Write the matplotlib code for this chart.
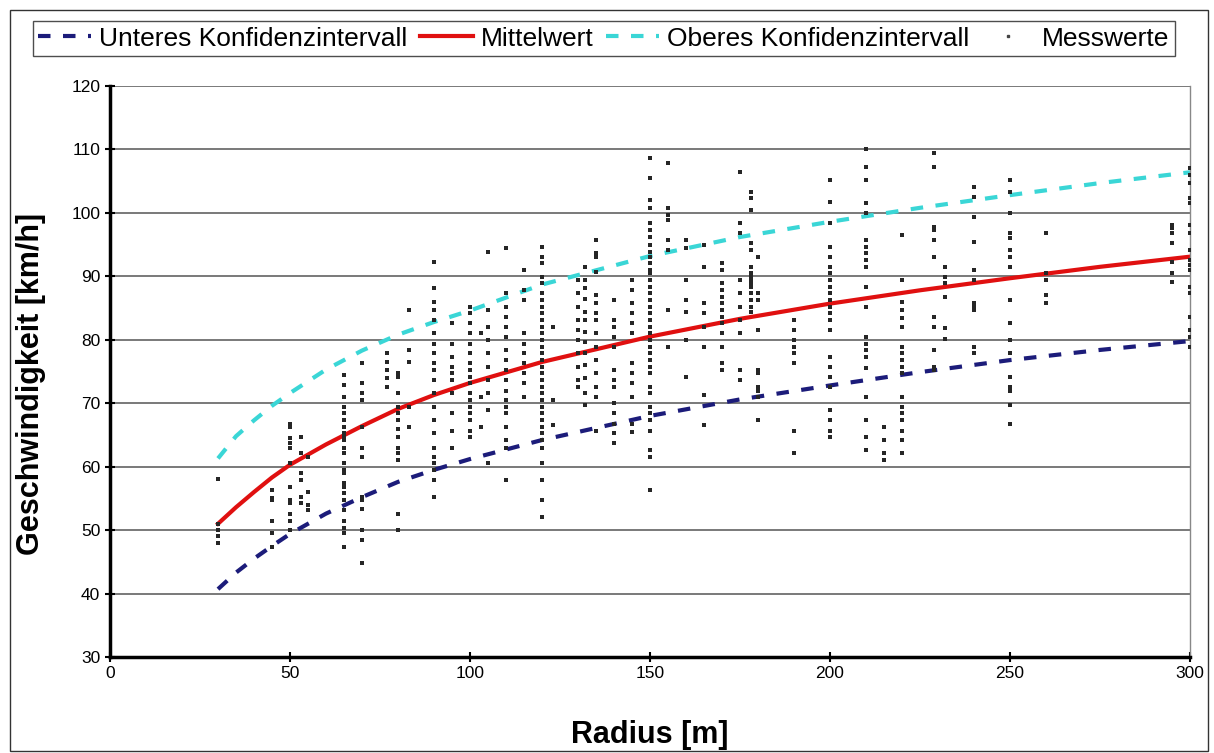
import matplotlib
matplotlib.use("Agg")
import matplotlib.pyplot as plt
from matplotlib.patches import Rectangle
import numpy as np

plt.rcParams['font.family'] = ['Liberation Sans', 'DejaVu Sans']

# Kurven
kurve_r = [30, 35, 40, 45, 50, 60, 70, 80, 90, 100, 120, 150, 175, 200, 225, 250, 275, 300]
mittelwert = [51.0, 53.6, 56.0, 58.3, 60.3, 63.5, 66.4, 69.1, 71.3, 73.2, 76.5, 80.5,
              83.3, 85.7, 87.8, 89.7, 91.5, 93.1]
unteres_ki = [40.7, 43.3, 45.5, 47.5, 49.4, 52.6, 55.2, 57.6, 59.5, 61.2, 64.2, 68.0,
              70.6, 72.8, 74.9, 76.8, 78.4, 79.8]
oberes_ki = [61.3, 64.8, 67.3, 69.6, 71.6, 75.3, 78.3, 80.8, 82.8, 84.6, 88.7, 93.2,
             96.2, 98.6, 100.8, 102.8, 104.7, 106.4]

# Messwerte je Radius
mess_r = [30, 45, 50, 53, 55, 65, 70, 77, 80, 83, 90, 95, 100, 103, 105, 110, 115, 120,
          123, 130, 132, 135, 140, 145, 150, 155, 160, 165, 170, 175, 178, 180, 190, 200,
          210, 215, 220, 229, 232, 240, 250, 260, 295, 300]
mess_v = [
    [58, 51, 50, 49, 48],
    [56.3, 55, 54.7, 51.5, 49.5, 47.3],
    [66.8, 66.2, 64.5, 63.7, 63, 60.5, 56.8, 54.7, 54.2, 52.6, 51.5, 50],
    [64.6, 62.1, 59, 57.9, 55.2, 54.2],
    [61.5, 56, 53.9, 53.1],
    [74.4, 72.8, 71, 69.4, 68.4, 67.3, 66.2, 65.3, 64.6, 64.2, 63, 62.1, 60.5, 59.4, 59,
     57.5, 56.8, 55.8, 54.7, 53.1, 51.5, 50.4, 49.5, 47.3],
    [76.3, 73.2, 71.6, 70.5, 66.2, 63, 61.5, 55.2, 54.7, 53.4, 50, 48.4, 44.8],
    [77.9, 76.5, 75.2, 73.9, 72.5],
    [74.7, 74.1, 71.6, 69.4, 68.4, 67.3, 66, 64.6, 63, 62.1, 61, 52.6, 50],
    [84.7, 78.4, 76.5, 69.4, 66.2],
    [92.2, 88.1, 85.9, 84.7, 83.1, 81, 79.4, 77.9, 76.3, 75.2, 73.6, 71.6, 69.4, 67.3,
     65.3, 63, 61.5, 60.5, 59.4, 57.9, 55.2],
    [82.6, 79.4, 77.3, 75.7, 74.7, 73.6, 71.6, 68.4, 65.7, 63],
    [85.1, 84.2, 82.6, 81, 79.4, 77.9, 76.3, 75.2, 74.1, 73.2, 71.6, 70.5, 69.4, 68.4,
     67.3, 65.7, 64.6],
    [81, 71, 66.2],
    [93.8, 84.7, 82, 80, 77.9, 75.7, 73.6, 71.6, 68.9, 60.5],
    [94.4, 87.3, 85.1, 83.6, 82, 80.4, 78.4, 76.8, 75.2, 73.6, 72, 70.5, 69.4, 68.4, 66.2,
     64.2, 63, 57.9],
    [91, 87.8, 86.2, 81, 79.4, 77.9, 76.3, 74.7, 73.2, 71],
    [94.6, 93, 92.1, 89.9, 88.9, 87.3, 86.2, 85.1, 84.2, 83.1, 82, 81, 80, 78.9, 77.9,
     76.8, 75.7, 74.7, 73.6, 72.5, 71.6, 70.5, 69.4, 68.4, 67.3, 66.2, 65.3, 64.2, 63,
     60.5, 57.9, 54.7, 52],
    [82, 70.5, 66.5],
    [89.4, 87.3, 85.1, 83.1, 81.5, 80, 77.9, 75.7, 73.6, 72.5],
    [91.5, 89.4, 88.1, 86.5, 84.4, 83.1, 81.2, 79.6, 77.9, 76, 74, 71.6, 69.7],
    [95.7, 93.6, 93, 90.7, 87, 85.8, 84.2, 83.1, 81, 78.8, 76.8, 74.7, 72.5, 71, 65.7],
    [86.2, 83.1, 82, 80.4, 78.8, 75.2, 73.6, 72.5, 70, 68.4, 66.8, 65.3, 63.7],
    [89.4, 87.8, 85.8, 84.2, 82.6, 81, 76.3, 74.7, 73.2, 71, 66.8, 65.4],
    [108.6, 105.5, 102, 100.8, 98.4, 97.3, 96.2, 94.9, 93.8, 93, 92.1, 91, 90.5, 89.4,
     88.3, 87.3, 86.2, 85.1, 84.2, 83.1, 82, 81, 80, 78.9, 77.9, 76.8, 75.7, 74.7, 72.5,
     71.6, 69.4, 68.4, 67.3, 65.7, 62.6, 61.5, 56.3],
    [107.9, 100.8, 99.7, 98.9, 95.7, 94.1, 84.7, 78.8],
    [95.7, 94.4, 89.4, 86.2, 84.4, 80, 74.1],
    [94.9, 91.5, 85.8, 84.2, 82, 78.8, 71.3, 66.5],
    [92.1, 91, 88.9, 87.8, 86.7, 85.8, 84.7, 83.6, 82.6, 81, 78.8, 76.3, 75.2],
    [106.4, 98.4, 96.8, 89.4, 87.3, 85.1, 83.1, 81, 75.2, 73.6],
    [103.3, 102.3, 100.4, 95.2, 94.1, 91.5, 90.5, 89.9, 89.4, 88.9, 88.3, 87.3, 86.2,
     85.1, 84.4],
    [93, 87.3, 86.2, 81.5, 75.2, 74.7, 72.5, 72, 71, 67.3],
    [83.1, 81.5, 80, 78.8, 77.9, 76.3, 65.7, 62.1],
    [105.2, 101.7, 98.4, 94.6, 93, 91.5, 90.5, 89.4, 88.3, 87.3, 86.2, 85.1, 84.2, 83.1,
     81.5, 77.3, 75.7, 74.1, 72.5, 68.9, 67.3, 65.7, 64.6],
    [110, 107.2, 105.2, 101.5, 100, 95.7, 94.6, 93.6, 92.6, 91.5, 88.3, 85.1, 80.4, 79.4,
     78.4, 77.3, 75.5, 71, 67.3, 64.6, 62.6],
    [66.2, 64.2, 62.1, 61],
    [96.5, 89.4, 85.9, 84.7, 83.4, 82, 78.8, 77.9, 76.8, 75.7, 74.7, 71, 69.4, 68.4, 67.3,
     65.7, 64.2, 62.1],
    [109.4, 107.2, 97.8, 97.3, 95.7, 93, 83.6, 82, 78.4, 75.7, 75.2],
    [91.5, 89.9, 88.9, 86.7, 81.8, 80.2],
    [104.1, 102.5, 99.3, 95.4, 91, 89.4, 85.8, 85.1, 84.7, 78.8, 77.9],
    [105.2, 103.3, 100, 96.8, 96, 94.1, 93, 91.5, 86.2, 82.6, 80, 77.9, 74.1, 72.5, 72,
     69.7, 66.8],
    [96.8, 90.5, 89.4, 87, 85.8],
    [98.1, 97.6, 96.8, 95.2, 92.2, 90.5, 89.1],
    [107, 106, 104.7, 102.3, 101.5, 98.1, 96.8, 94.1, 92.6, 91.8, 91, 88.3, 87.3, 83.6,
     81.5, 80.4, 78.8],
]

punkte_x = np.repeat(mess_r, [len(v) for v in mess_v])
punkte_y = np.concatenate([np.array(v, dtype=float) for v in mess_v])

fig = plt.figure(figsize=(12.14, 7.53), dpi=100)
ax = fig.add_axes([110 / 1214, 1 - 657 / 753, 1080 / 1214, 571 / 753])

# Rahmen um das ganze Diagramm
fig.patches.append(Rectangle((10 / 1214, 2 / 753), 1198 / 1214, 741 / 753,
                             transform=fig.transFigure, fill=False,
                             edgecolor='#333333', linewidth=1.0))

ax.yaxis.grid(True, color='#555555', linewidth=1.1)
ax.set_axisbelow(True)

l1, = ax.plot(kurve_r, unteres_ki, color='#1c1c7a', linewidth=3, dashes=(3, 3),
              label='Unteres Konfidenzintervall')
l2, = ax.plot(kurve_r, mittelwert, color='#e01010', linewidth=3, label='Mittelwert')
l3, = ax.plot(kurve_r, oberes_ki, color='#3ad6d6', linewidth=3, dashes=(3, 3),
              label='Oberes Konfidenzintervall')
ax.scatter(punkte_x, punkte_y, s=5, marker='s', color='#262626', linewidths=0, zorder=3)
l4, = ax.plot([], [], linestyle='none', marker='s', markersize=2, color='#444444',
              label='Messwerte')

ax.set_xlim(0, 300)
ax.set_ylim(30, 120)
ax.set_xticks(np.arange(0, 301, 50))
ax.set_yticks(np.arange(30, 121, 10))

for s in ['left', 'bottom']:
    ax.spines[s].set_linewidth(2.5)
    ax.spines[s].set_color('black')
ax.spines['top'].set_visible(False)
ax.spines['right'].set_color('#888888')
ax.spines['right'].set_linewidth(1.0)

ax.tick_params(axis='both', direction='inout', length=7, width=1.5, labelsize=12.5)
ax.tick_params(axis='x', pad=3)

ax.set_xlabel('Radius [m]', fontsize=22, fontweight='bold', labelpad=28)
ax.set_ylabel('Geschwindigkeit [km/h]', fontsize=22, fontweight='bold')
ax.yaxis.set_label_coords(-0.059, 0.478)

fig.legend(handles=[l1, l2, l3, l4], loc='lower left', ncol=4, mode='expand',
           bbox_to_anchor=(33 / 1214, 1 - 56 / 753, 1142 / 1214, 42 / 753),
           fontsize=19, frameon=True, fancybox=False, edgecolor='#222222',
           handlelength=2.0, handletextpad=0.3, columnspacing=0.1, borderpad=0.2,
           borderaxespad=0.0)

fig.savefig('out.png', dpi=100)
